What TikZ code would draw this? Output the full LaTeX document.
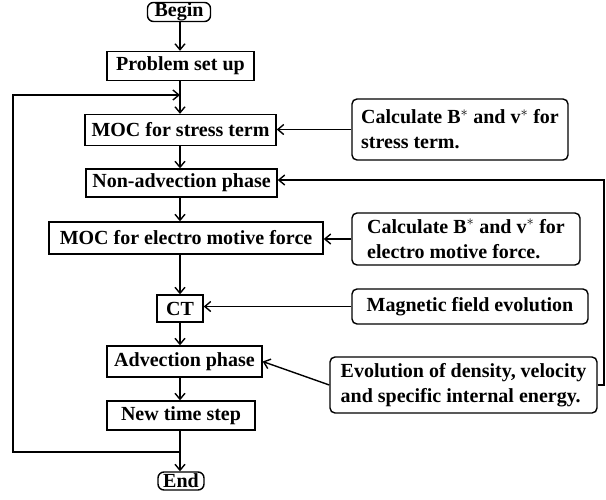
\documentclass[tikz,border=0pt]{standalone}
\usepackage{fontspec}
\setmainfont{Liberation Serif}
\usetikzlibrary{arrows.meta,calc}
\begin{document}
\begin{tikzpicture}[x=1pt,y=-1pt,
  box/.style={draw, line width=1.4pt, inner sep=0pt, font=\fontsize{20}{25}\selectfont\bfseries},
  rbox/.style={box, rounded corners=5pt, align=left},
  conn/.style={line width=1.4pt},
  arr/.style={conn, -{Straight Barb[length=6pt,width=10pt]}}]
\useasboundingbox (0,0) rectangle (606,499);
\coordinate (spine) at (180,0);
% main column
\node[box, rounded corners=6pt, minimum width=63pt, minimum height=19pt] (begin) at (179,12) {Begin};
\node[box, minimum width=147pt, minimum height=29pt] (setup) at (180.5,66) {Problem set up};
\node[box, minimum width=191pt, minimum height=31pt] (moc1) at (180.5,130) {MOC for stress term};
\node[box, minimum width=191pt, minimum height=28pt] (nonadv) at (181.5,183) {Non-advection phase};
\node[box, minimum width=274pt, minimum height=32pt] (moc2) at (186,238) {MOC for electro motive force};
\node[box, minimum width=46pt, minimum height=27pt] (ct) at (180,308.5) {CT};
\node[box, minimum width=155pt, minimum height=31pt] (adv) at (184.5,361.5) {Advection phase};
\node[box, minimum width=148pt, minimum height=29pt] (newt) at (181,415.5) {New time step};
\node[box, rounded corners=6pt, minimum width=46pt, minimum height=18pt] (end) at (181,481) {End};
% right column
\node[rbox, minimum width=216pt, minimum height=61pt] (calc1) at (460,129.5) {Calculate B$^*$ and v$^*$ for\\stress term.};
\node[rbox, minimum width=228pt, minimum height=52pt] (calc2) at (466,239) {Calculate B$^*$ and v$^*$ for\\electro motive force.};
\node[rbox, minimum width=236pt, minimum height=35pt] (mag) at (470,306.5) {Magnetic field evolution};
\node[rbox, minimum width=267pt, minimum height=56pt] (evol) at (463.5,385) {Evolution of density, velocity\\and specific internal energy.};
% spine arrows
\draw[arr] (begin.south -| spine) -- (setup.north -| spine);
\draw[arr] (setup.south -| spine) -- (moc1.north -| spine);
\draw[arr] (moc1.south -| spine) -- (nonadv.north -| spine);
\draw[arr] (nonadv.south -| spine) -- (moc2.north -| spine);
\draw[arr] (moc2.south -| spine) -- (ct.north -| spine);
\draw[arr] (ct.south -| spine) -- (adv.north -| spine);
\draw[arr] (adv.south -| spine) -- (newt.north -| spine);
\draw[arr] (newt.south -| spine) -- (end.north -| spine);
% loop back
\coordinate (lb) at (180,452);
\coordinate (ll) at (13,452);
\coordinate (lu) at (13,95);
\coordinate (lt) at (180,95);
\draw[arr] (lb) -- (ll) -- (lu) -- (lt);
% right inputs
\draw[arr] (calc1.west) -- (calc1.west -| moc1.east);
\draw[arr] (calc2.west) -- (calc2.west -| moc2.east);
\draw[arr] (mag.west) -- (mag.west -| ct.east);
\draw[arr] (evol.west) -- (adv.east);
\coordinate (fr) at (604,385);
\coordinate (frt) at (604,180);
\draw[arr] (evol.east) -- (fr) -- (frt) -- (frt -| nonadv.east);
\end{tikzpicture}
\end{document}
